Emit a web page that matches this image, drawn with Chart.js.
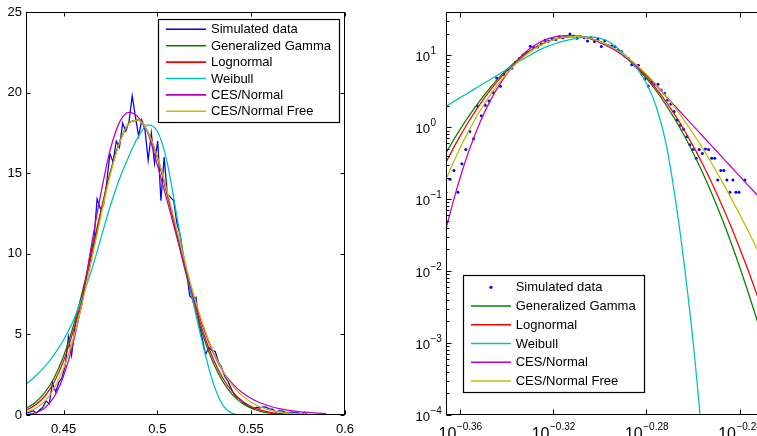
<!DOCTYPE html>
<html><head><meta charset="utf-8">
<script src="https://cdn.jsdelivr.net/npm/chart.js@4/dist/chart.umd.min.js"></script>
<style>
html,body{margin:0;padding:0;background:#fff;overflow:hidden;width:757px;height:436px;}
#c1{position:absolute;left:0;top:0;width:380px;height:436px;}
#c2{position:absolute;left:380px;top:0;width:420px;height:436px;}
</style></head><body>
<canvas id="c1" width="380" height="436"></canvas>
<canvas id="c2" width="420" height="436"></canvas>
<script>
// ---------- data ----------
const fitX = [0.430,0.435,0.440,0.445,0.450,0.455,0.460,0.465,0.470,0.475,0.480,0.485,0.490,0.495,0.500,0.505,0.510,0.515,0.520,0.525,0.530,0.535,0.540,0.545,0.550,0.555,0.560,0.565,0.570,0.575,0.580,0.585,0.590];
const genGamma = [0.4118,0.7771,1.3811,2.3116,3.647,5.430,7.631,10.134,12.723,15.109,16.992,18.106,18.292,17.536,15.958,13.802,11.350,8.880,6.616,4.695,3.177,2.051,1.2643,0.7442,0.4188,0.2254,0.1161,0.05727,0.02707,0.01227,0.005335,0.002226,0.000892];
const lognormal = [0.3027,0.6159,1.1637,2.0455,3.353,5.139,7.377,9.942,12.603,15.052,16.975,18.104,18.292,17.54,15.98,13.862,11.462,9.048,6.828,4.931,3.413,2.267,1.4467,0.8877,0.5246,0.2988,0.1642,0.08715,0.04472,0.02221,0.01068,0.004979,0.002251];
const weibull = [1.9,2.4,3.0,3.75,4.65,5.8,7.3,9.0,11.0,13.0,14.7,16.1,17.3,18.0,17.6,15.8,12.6,9.3,6.5,4.0,1.9,0.6,0.1,0.011,0.0008,0.00003,0.0000004,null,null,null,null,null,null];
const cesNormal = [0.034,0.135,0.436,1.13,2.42,4.40,7.12,10.61,13.8,16.5,18.2,18.78,18.45,17.5,15.5,13.4,11.2,9.0,7.0,5.25,3.8,2.7,1.946,1.407,1.022,0.7436,0.5428,0.3973,0.2917,0.2146,0.1583,0.1172,0.0869];
const cesNormalFree = [0.1739,0.4053,0.8550,1.6413,2.882,4.654,6.941,9.607,12.391,14.950,16.943,18.100,18.292,17.547,16.020,13.972,11.668,9.358,7.227,5.385,3.883,2.714,1.8440,1.2194,0.7868,0.4962,0.3064,0.1855,0.1104,0.0646,0.03725,0.02120,0.01191];

const simX = [0.4305,0.4322,0.4339,0.4356,0.4373,0.4390,0.4407,0.4424,0.4441,0.4458,0.4475,0.4492,0.4509,0.4526,0.4543,0.4560,0.4577,0.4594,0.4611,0.4628,0.4645,0.4662,0.4679,0.4696,0.4713,0.4730,0.4747,0.4764,0.4781,0.4798,0.4815,0.4832,0.4849,0.4866,0.4883,0.4900,0.4917,0.4934,0.4951,0.4968,0.4985,0.5002,0.5019,0.5036,0.5053,0.5070,0.5087,0.5104,0.5121,0.5138,0.5155,0.5172,0.5189,0.5206,0.5223,0.5240,0.5257,0.5274,0.5291,0.5308,0.5325,0.5342,0.5359,0.5376,0.5393,0.5410,0.5427,0.5444,0.5461,0.5478,0.5495,0.5512,0.5529,0.5546,0.5563,0.5580,0.5597,0.5614,0.5631,0.5648,0.5665,0.5682,0.5699,0.5716,0.5733,0.5750,0.5767,0.5784,0.5801,0.5818,0.5835,0.5852,0.5869,0.5886,0.5903];
const simY = [0.124,0.19,0.25,0.125,0.31,0.49,0.87,0.69,1.98,1.44,2.02,2.32,
  3.05,4.85,3.7,5.4,6.3,6.6,
  8.0,9.0,10.1,10.9,13.4,12.8,
  13.0,14.4,16.2,15.7,17.0,16.6,18.1,17.6,18.2,19.8,18.5,17.3,18.3,17.7,15.8,17.5,15.6,17.0,13.3,16.0,13.7,13.5,13.3,
  11.9,11.2,9.8,9.0,7.4,7.2,7.3,5.6,4.7,3.75,4.2,4.0,3.95,3.3,
  2.96,2.4,2.1,1.65,1.26,1.07,0.94,0.74,0.57,0.49,0.37,0.49,0.43,0.5,0.49,0.37,0.37,0.185,0.25,0.25,0.185,0.125,0.185,0.125,0.125,0,0.185,0,0,
  0,0,0,0,0];

const seriesNames = ['Simulated data','Generalized Gamma','Lognormal','Weibull','CES/Normal','CES/Normal Free'];
const seriesColors = ['#0000ff','#008000','#ff0000','#00bfbf','#bf00bf','#bfbf00'];

const leftXTicks = [0.45,0.5,0.55,0.6];
const leftYTicks = [0,5,10,15,20,25];
const rightXTickExps = ['-0.36','-0.32','-0.28','-0.24'];
const rightYTickExps = ['-4','-3','-2','-1','0','1'];

// ---------- helpers ----------
const FONT = '"Liberation Sans", Arial, Helvetica, sans-serif';
Chart.defaults.font.family = FONT;
Chart.defaults.color = '#000';

function pts(xs, ys){ return xs.map((x,i)=>({x:x, y:ys[i]})); }
function ptsPos(xs, ys){ return xs.map((x,i)=>({x:x, y:(ys[i]!=null && ys[i]>0)? ys[i] : null})); }

const boxPlugin = {
  id: 'box',
  afterDatasetsDraw(chart, args, o) {
    const ctx = chart.ctx, a = chart.chartArea, xs = chart.scales.x, ys = chart.scales.y;
    ctx.save();
    ctx.strokeStyle = '#000';
    ctx.lineWidth = 1;
    const L = Math.round(a.left)+0.5, R = Math.round(a.right)-0.5, T = Math.round(a.top)+0.5, B = Math.round(a.bottom)-0.5;
    ctx.strokeRect(L, T, R-L, B-T);
    ctx.beginPath();
    (o.xMajor||[]).forEach(v => {
      const px = Math.round(xs.getPixelForValue(v))+0.5;
      ctx.moveTo(px, B); ctx.lineTo(px, B - o.len);
      ctx.moveTo(px, T); ctx.lineTo(px, T + o.len);
    });
    (o.yMajor||[]).forEach(v => {
      const py = Math.round(ys.getPixelForValue(v))+0.5;
      ctx.moveTo(L, py); ctx.lineTo(L + o.len, py);
      ctx.moveTo(R, py); ctx.lineTo(R - o.len, py);
    });
    (o.yMinor||[]).forEach(v => {
      const py = Math.round(ys.getPixelForValue(v))+0.5;
      ctx.moveTo(L, py); ctx.lineTo(L + o.minorLen, py);
      ctx.moveTo(R, py); ctx.lineTo(R - o.minorLen, py);
    });
    ctx.stroke();
    ctx.restore();
  }
};

const legendPlugin = {
  id: 'mlegend',
  afterDraw(chart, args, o) {
    const ctx = chart.ctx;
    ctx.save();
    ctx.fillStyle = '#fff';
    ctx.fillRect(o.x, o.y, o.w, o.h);
    ctx.strokeStyle = '#000'; ctx.lineWidth = 1.2;
    ctx.strokeRect(Math.round(o.x)+0.5, Math.round(o.y)+0.5, Math.round(o.w), Math.round(o.h));
    ctx.font = '13px ' + FONT;
    ctx.textBaseline = 'middle';
    ctx.textAlign = 'left';
    seriesNames.forEach((name, i) => {
      const y = o.row0 + i * o.step;
      if (i === 0 && o.dot) {
        ctx.fillStyle = seriesColors[0];
        ctx.beginPath(); ctx.arc((o.lx0+o.lx1)/2, y, 1.6, 0, Math.PI*2); ctx.fill();
      } else {
        ctx.strokeStyle = seriesColors[i]; ctx.lineWidth = 1.6;
        ctx.beginPath(); ctx.moveTo(o.lx0, y); ctx.lineTo(o.lx1, y); ctx.stroke();
      }
      ctx.fillStyle = '#000';
      ctx.fillText(name, o.tx, y + 0.5);
    });
    ctx.restore();
  }
};

const powLabels = {
  id: 'powlabels',
  afterDraw(chart, args, o) {
    const ctx = chart.ctx, a = chart.chartArea, xs = chart.scales.x, ys = chart.scales.y;
    ctx.save();
    ctx.fillStyle = '#000';
    o.yExps.forEach(e => {
      const py = ys.getPixelForValue(Math.pow(10, parseFloat(e)));
      const ex = e.replace('-', '\u2212');
      ctx.font = '13px ' + FONT; ctx.textAlign = 'right'; ctx.textBaseline = 'alphabetic';
      ctx.fillText('10', a.left - 16, py + 6);
      ctx.font = '10px ' + FONT; ctx.textAlign = 'left';
      ctx.fillText(ex, a.left - 15.5, py - 1);
    });
    o.xExps.forEach(e => {
      const px = xs.getPixelForValue(Math.pow(10, parseFloat(e)));
      const ex = e.replace('-', '\u2212');
      ctx.font = '16px ' + FONT; const w1 = ctx.measureText('10').width;
      ctx.font = '10px ' + FONT; const w2 = ctx.measureText(ex).width;
      const left = px - (w1 + w2) / 2;
      ctx.textAlign = 'left'; ctx.textBaseline = 'alphabetic';
      ctx.font = '16px ' + FONT; ctx.fillText('10', left, a.bottom + 23.5);
      ctx.font = '10px ' + FONT; ctx.fillText(ex, left + w1 + 0.5, a.bottom + 14.5);
    });
    ctx.restore();
  }
};

function lineDs(i, data, order, smooth) {
  return {label: seriesNames[i], data: data, borderColor: seriesColors[i], backgroundColor: seriesColors[i],
    showLine: true, pointRadius: 0, borderWidth: 1.25, order: order, spanGaps: false,
    cubicInterpolationMode: smooth ? 'monotone' : 'default', tension: 0};
}

// ---------- left: linear ----------
new Chart(document.getElementById('c1'), {
  type: 'scatter',
  data: { datasets: [
    lineDs(0, pts(simX, simY), 6, false),
    lineDs(1, pts(fitX, genGamma), 5, true),
    lineDs(2, pts(fitX, lognormal), 4, true),
    lineDs(3, pts(fitX, weibull), 3, true),
    lineDs(4, pts(fitX, cesNormal), 2, true),
    lineDs(5, pts(fitX, cesNormalFree), 1, true)
  ]},
  options: {
    responsive: false, animation: false, events: [],
    layout: {padding: {left: 0, top: 12, right: 35, bottom: 0}},
    plugins: {
      legend: {display: false}, tooltip: {enabled: false},
      box: {xMajor: leftXTicks, yMajor: leftYTicks, len: 4},
      mlegend: {x: 157.5, y: 19, w: 181, h: 102.5, row0: 29.3, step: 16.4, lx0: 166, lx1: 206, tx: 211, dot: false}
    },
    scales: {
      x: {type: 'linear', min: 0.43, max: 0.6,
        afterBuildTicks: s => { s.ticks = leftXTicks.map(v => ({value: v})); },
        afterFit: s => { s.height = 21; },
        grid: {display: false, drawTicks: false}, border: {display: false},
        ticks: {padding: 7, font: {size: 13}, color: '#000', autoSkip: false, maxRotation: 0, callback: v => String(v)}},
      y: {type: 'linear', min: 0, max: 25,
        afterBuildTicks: s => { s.ticks = leftYTicks.map(v => ({value: v})); },
        afterFit: s => { s.width = 26; },
        grid: {display: false, drawTicks: false}, border: {display: false},
        ticks: {padding: 4, font: {size: 13}, color: '#000', autoSkip: false, callback: v => String(v)}}
    }
  },
  plugins: [boxPlugin, legendPlugin]
});

// ---------- right: log-log ----------
const yMinor = [];
for (let d = -4; d <= 1; d++) for (let m = 2; m <= 9; m++) { const v = m * Math.pow(10, d); if (v <= 40) yMinor.push(v); }

new Chart(document.getElementById('c2'), {
  type: 'scatter',
  data: { datasets: [
    {label: seriesNames[0], data: ptsPos(simX, simY), showLine: false, pointRadius: 1.5, pointBorderWidth: 0,
     backgroundColor: seriesColors[0], borderColor: seriesColors[0], order: 6},
    lineDs(1, ptsPos(fitX, genGamma), 5, true),
    lineDs(2, ptsPos(fitX, lognormal), 4, true),
    lineDs(3, ptsPos(fitX, weibull), 3, true),
    lineDs(4, ptsPos(fitX, cesNormal), 2, true),
    lineDs(5, ptsPos(fitX, cesNormalFree), 1, true)
  ]},
  options: {
    responsive: false, animation: false, events: [],
    layout: {padding: {left: 0, top: 12, right: 18, bottom: 0}},
    plugins: {
      legend: {display: false}, tooltip: {enabled: false},
      box: {xMajor: rightXTickExps.map(e => Math.pow(10, parseFloat(e))), yMajor: rightYTickExps.map(e => Math.pow(10, parseFloat(e))), yMinor: yMinor, len: 5, minorLen: 3},
      mlegend: {x: 82.7, y: 275.3, w: 180.6, h: 117.4, row0: 287.3, step: 18.75, lx0: 91, lx1: 131, tx: 135.7, dot: true},
      powlabels: {xExps: rightXTickExps, yExps: rightYTickExps}
    },
    scales: {
      x: {type: 'logarithmic', min: 0.4305, max: 0.6,
        afterFit: s => { s.height = 21; },
        grid: {display: false, drawTicks: false}, border: {display: false}, ticks: {display: false}},
      y: {type: 'logarithmic', min: 1e-4, max: 40,
        afterFit: s => { s.width = 66; },
        grid: {display: false, drawTicks: false}, border: {display: false}, ticks: {display: false}}
    }
  },
  plugins: [boxPlugin, legendPlugin, powLabels]
});
</script>
</body></html>
